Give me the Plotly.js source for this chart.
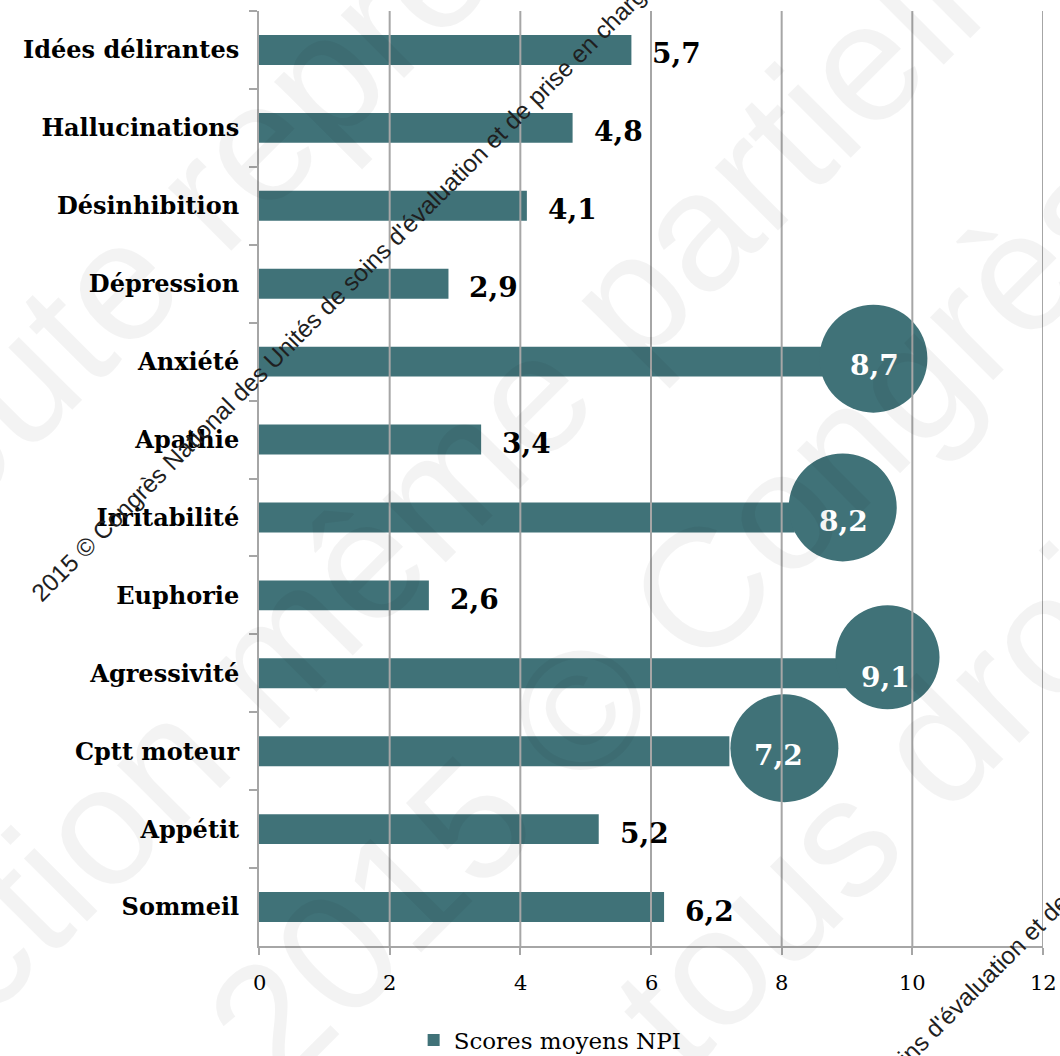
<!DOCTYPE html>
<html>
<head>
<meta charset="utf-8">
<script src="https://cdn.plot.ly/plotly-3.0.1.min.js"></script>
<style>
  html, body { margin: 0; padding: 0; background: #fff; }
  #chart { width: 1060px; height: 1056px; }
</style>
</head>
<body>
<div id="chart"></div>
<script>
// NPI domains, top to bottom
const categories = ['Idées délirantes', 'Hallucinations', 'Désinhibition', 'Dépression',
  'Anxiété', 'Apathie', 'Irritabilité', 'Euphorie', 'Agressivité', 'Cptt moteur',
  'Appétit', 'Sommeil'];
// mean NPI score per domain
const scores = [5.7, 4.8, 4.1, 2.9, 8.7, 3.4, 8.2, 2.6, 9.1, 7.2, 5.2, 6.2];
const xTicks = [0, 2, 4, 6, 8, 10, 12];
const seriesName = 'Scores moyens NPI';
const highlighted = ['Anxiété', 'Irritabilité', 'Agressivité', 'Cptt moteur'];

// ---- styling ----
const W = 1060, H = 1056;
const M = { l: 259, r: 17, t: 11, b: 110 };
const TEAL = '#407278';
const GRID = '#a6a6a6';
const SERIF = 'DejaVu Serif, Georgia, serif';
const SANS = 'Liberation Sans, Arial, sans-serif';

// callout discs: offset (px) of the disc centre from the bar end, radius, label shift
const callout = {
  'Anxiété':     { dx: 46, dy: 3,  r: 54, shift: 21 },
  'Irritabilité':{ dx: 48, dy: 10, r: 54, shift: 22 },
  'Agressivité': { dx: 34, dy: 16, r: 52, shift: 5 },
  'Cptt moteur': { dx: 55, dy: 3,  r: 54, shift: 23 }
};

const fmt = v => v.toFixed(1).replace('.', ',');
const px2x = p => (p - M.l) / (W - M.l - M.r);
const px2y = p => (H - M.b - p) / (H - M.t - M.b);

const bars = {
  type: 'bar',
  orientation: 'h',
  name: seriesName,
  y: categories,
  x: scores,
  marker: { color: TEAL },
  hoverinfo: 'skip'
};

const shapes = [];
categories.forEach((c, i) => {
  if (!highlighted.includes(c)) return;
  const s = callout[c];
  shapes.push({
    type: 'circle', layer: 'above',
    xref: 'x', yref: 'y',
    xsizemode: 'pixel', ysizemode: 'pixel',
    xanchor: scores[i], yanchor: i,
    x0: s.dx - s.r, x1: s.dx + s.r,
    y0: s.dy - s.r, y1: s.dy + s.r,
    fillcolor: TEAL, line: { width: 0 }
  });
});
// vertical grid drawn over the bars
xTicks.filter(t => t > 0).forEach(t => {
  shapes.push({
    type: 'line', layer: 'above', xref: 'x', yref: 'paper',
    x0: t, x1: t, y0: 0, y1: 1,
    line: { color: GRID, width: 2 }
  });
});

const annotations = [];
// value labels
categories.forEach((c, i) => {
  const hi = highlighted.includes(c);
  annotations.push({
    xref: 'x', yref: 'y', x: scores[i], y: i,
    text: fmt(scores[i]), showarrow: false,
    xanchor: 'left', yanchor: 'middle',
    xshift: hi ? callout[c].shift : 19, yshift: -4,
    font: { family: SERIF, size: 28, weight: 'bold', color: hi ? '#ffffff' : '#000000' }
  });
});
// x tick labels, set a little further below the axis
xTicks.forEach(t => annotations.push({
  xref: 'x', yref: 'paper', x: t, y: 0,
  text: String(t), showarrow: false,
  xanchor: 'center', yanchor: 'top', yshift: -23,
  font: { family: SERIF, size: 21, color: '#000' }
}));

// faint diagonal copyright stamp
const stamp = [
  { text: 'Toute représentation', cx: 401, cy: -1 },
  { text: 'ou reproduction même partielle', cx: 190, cy: 735 },
  { text: '2015 © Congrès National', cx: 909, cy: 381 },
  { text: 'tous droits réservés', cx: 1165, cy: 514 }
];
stamp.forEach(s => annotations.push({
  xref: 'paper', yref: 'paper', x: px2x(s.cx), y: px2y(s.cy),
  xanchor: 'center', yanchor: 'middle', showarrow: false, textangle: -45,
  text: s.text, font: { family: SANS, size: 169, color: 'rgba(0,0,0,0.047)' }
}));

// small diagonal credit line
const credit = "2015 © Congrès National des Unités de soins d'évaluation et de prise en charge";
[[343, 289], [881, 1081]].forEach(([cx, cy]) => annotations.push({
  xref: 'paper', yref: 'paper', x: px2x(cx), y: px2y(cy),
  xanchor: 'center', yanchor: 'middle', showarrow: false, textangle: -45,
  text: credit, font: { family: SANS, size: 24.5, color: '#1f1f1f' }
}));

const layout = {
  width: W, height: H,
  margin: M,
  paper_bgcolor: '#ffffff', plot_bgcolor: '#ffffff',
  bargap: 0.615,
  showlegend: true,
  legend: {
    orientation: 'h', xref: 'container', yref: 'container',
    x: 0.519, y: 0.015, xanchor: 'center', yanchor: 'middle',
    font: { family: SERIF, size: 23, color: '#000' },
    itemwidth: 30
  },
  xaxis: {
    range: [0, 12], tickvals: xTicks,
    showticklabels: false,
    showgrid: false, zeroline: false,
    showline: true, linecolor: GRID, linewidth: 2,
    ticks: 'outside', ticklen: 7, tickwidth: 2, tickcolor: GRID,
    fixedrange: true
  },
  yaxis: {
    type: 'category', autorange: 'reversed',
    showgrid: false, zeroline: false,
    showline: true, linecolor: GRID, linewidth: 2,
    ticks: 'outside', tickson: 'boundaries', ticklen: 8, tickwidth: 2, tickcolor: GRID,
    tickfont: { family: SERIF, size: 24, weight: 'bold', color: '#000' },
    ticklabelstandoff: 13,
    layer: 'above traces',
    fixedrange: true
  },
  shapes: shapes,
  annotations: annotations
};

Plotly.newPlot('chart', [bars], layout, { displayModeBar: false, staticPlot: true });
</script>
</body>
</html>
